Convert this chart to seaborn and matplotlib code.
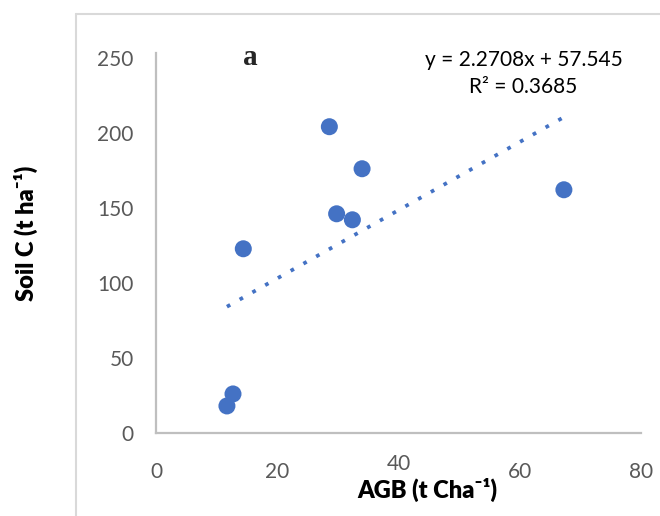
import numpy as np
import pandas as pd
import matplotlib.pyplot as plt
import matplotlib.transforms as mtransforms
from matplotlib.lines import Line2D
import seaborn as sns

# values
agb = [28.6, 34.0, 29.8, 32.4, 14.4, 67.3, 12.7, 11.7]
soil_c = [204, 176, 146, 142, 122.7, 162, 26, 18]
slope = 2.2708
intercept = 57.545
r2 = 0.3685
x_ticks = [0, 20, 40, 60, 80]
y_ticks = [0, 50, 100, 150, 200, 250]

blue = "#4472C4"
grey_txt = "#595959"
grey_line = "#BFBFBF"

sns.set_theme(style="white")
plt.rcParams["font.family"] = ["Lato", "DejaVu Sans"]

df = pd.DataFrame({"AGB": agb, "SoilC": soil_c})
xs = np.array([df.AGB.min(), df.AGB.max()])
trend = pd.DataFrame({"x": xs, "y": slope * xs + intercept})

fig = plt.figure(figsize=(6.6, 5.16), dpi=100)
ax = fig.add_axes([0.2364, 0.1609, 0.7346, 0.7361])

sns.scatterplot(data=df, x="AGB", y="SoilC", ax=ax, s=150, color=blue,
                edgecolor="none", zorder=2)
sns.lineplot(data=trend, x="x", y="y", ax=ax, color=blue, lw=2.7,
             ls=(0, (1, 2.9)), zorder=3)
ax.lines[-1].set_dash_capstyle("butt")

ax.set_xlim(0, 80)
ax.set_ylim(0, 253)
ax.set_xticks(x_ticks)
ax.set_yticks(y_ticks)
ax.tick_params(axis="both", length=0, labelsize=15, labelcolor=grey_txt)
ax.tick_params(axis="y", pad=16)
ax.tick_params(axis="x", pad=21)

# the "40" label sits a little higher in the original
lab40 = ax.get_xticklabels()[2]
lab40.set_transform(lab40.get_transform()
                    + mtransforms.ScaledTranslation(0, 8 / 100, fig.dpi_scale_trans))

for side in ["top", "right"]:
    ax.spines[side].set_visible(False)
for side in ["left", "bottom"]:
    ax.spines[side].set_color(grey_line)
    ax.spines[side].set_linewidth(1.6)

ax.set_xlabel("AGB (t Cha\u207b\u00b9)", fontsize=17, fontweight="heavy", color="black")
ax.set_ylabel("Soil C (t ha\u207b\u00b9)", fontsize=17, fontweight="heavy", color="black")
ax.xaxis.set_label_coords(0.559, -0.15)
ax.xaxis.label.set_va("center")
ax.yaxis.set_label_coords(-0.268, 0.526)
ax.yaxis.label.set_va("center")

ax.text(0.194, 0.989, "a", transform=ax.transAxes, ha="center", va="center",
        fontsize=21, fontweight="bold", family=["Liberation Serif", "DejaVu Serif"])
ax.text(0.759, 0.982, f"y = {slope}x + {intercept}", transform=ax.transAxes,
        ha="center", va="center", fontsize=15, color="black")
ax.text(0.757, 0.911, f"R\u00b2 = {r2}", transform=ax.transAxes,
        ha="center", va="center", fontsize=15, color="black")

# chart area border
fig.add_artist(Line2D([76 / 660, 76 / 660], [0, 1 - 14 / 516], color="#D9D9D9",
                      lw=1.5, transform=fig.transFigure))
fig.add_artist(Line2D([76 / 660, 1], [1 - 14 / 516, 1 - 14 / 516], color="#D9D9D9",
                      lw=1.5, transform=fig.transFigure))

fig.savefig("out.png", dpi=100)
